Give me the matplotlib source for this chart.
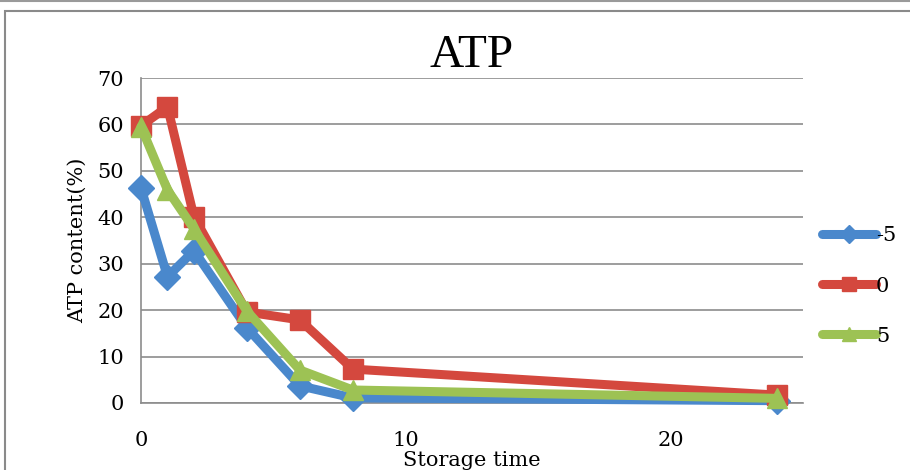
import matplotlib
matplotlib.use("Agg")
import matplotlib.pyplot as plt
from matplotlib.patches import Rectangle
from matplotlib.lines import Line2D

days = [0, 1, 2, 4, 6, 8, 24]
series_labels = ["-5", "0", "5"]
atp_m5 = [46.3, 27.2, 32.8, 16.2, 3.7, 1.1, 0.5]
atp_0 = [59.7, 63.8, 40.1, 19.6, 17.9, 7.3, 1.7]
atp_5 = [59.5, 45.9, 37.5, 19.8, 7.1, 2.8, 1.0]
yticks = [0, 10, 20, 30, 40, 50, 60, 70]
xticks = [0, 10, 20]

colors = ["#4a88cc", "#d4483e", "#9dc254"]
markers = ["D", "s", "^"]
msizes = [13, 15, 15]

W, H = 910, 470
fig = plt.figure(figsize=(W / 100, H / 100), dpi=100)
fig.patch.set_facecolor("white")

# outer frames
fig.add_artist(Line2D([0, 1], [1 - 1 / H, 1 - 1 / H], transform=fig.transFigure,
                      color="#9a9a9a", lw=1.5))
fig.add_artist(Rectangle((5 / W, -0.05), 1.2, (H - 11) / H + 0.05, transform=fig.transFigure,
                         fill=False, edgecolor="#8a8a8a", lw=1.5))

ax = fig.add_axes([141 / W, (H - 403) / H, (803 - 141) / W, (403 - 78) / H])
for vals, c, m, ms, lab in zip([atp_m5, atp_0, atp_5], colors, markers, msizes, series_labels):
    ax.plot(days, vals, color=c, lw=6.5, marker=m, ms=ms, label=lab,
            solid_joinstyle="round", solid_capstyle="round", clip_on=False, zorder=3)

ax.set_xlim(0, 25)
ax.set_ylim(0, 70)
ax.set_yticks(yticks)
ax.set_xticks(xticks)
ax.grid(axis="y", color="#8c8c8c", lw=1.2)
ax.set_axisbelow(True)
for s in ["top", "right"]:
    ax.spines[s].set_visible(False)
ax.spines["left"].set_color("#8c8c8c")
ax.spines["bottom"].set_color("#8c8c8c")
ax.spines["left"].set_linewidth(1.2)
ax.spines["bottom"].set_linewidth(1.2)
ax.tick_params(length=0, labelsize=15, pad=12)
ax.tick_params(axis="x", pad=20)
for t in ax.get_xticklabels() + ax.get_yticklabels():
    t.set_family("DejaVu Serif")

ax.set_title("ATP", family="Liberation Serif", fontsize=34, pad=8)
ax.set_xlabel("Storage time", family="DejaVu Serif", fontsize=15, labelpad=1)
ax.set_ylabel("ATP content(%)", family="DejaVu Serif", fontsize=15, labelpad=8)

leg = ax.legend(loc="center left", bbox_to_anchor=(1.0, 0.36), frameon=False,
                prop={"family": "DejaVu Serif", "size": 15}, handlelength=2.6,
                handletextpad=0.0, labelspacing=1.5, markerscale=0.7)

fig.savefig("out.png", dpi=100, facecolor="white")
